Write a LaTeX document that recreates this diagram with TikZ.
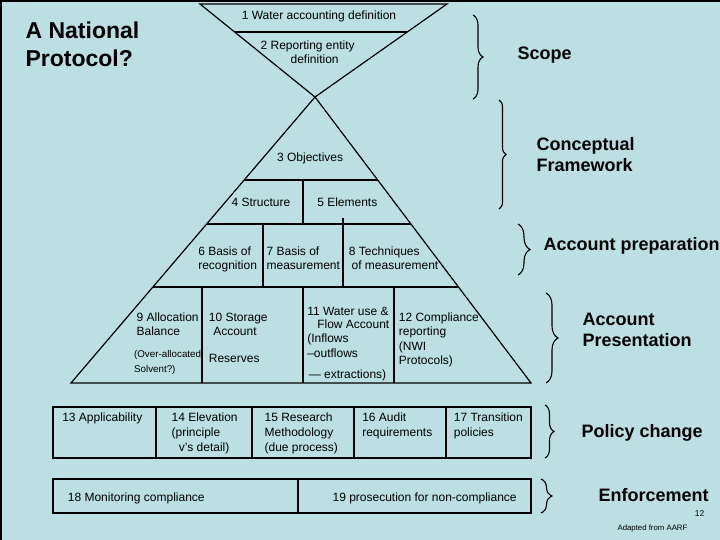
\documentclass[tikz,border=0pt]{standalone}
\usepackage{fontspec}
\setmainfont{Liberation Sans}
\usetikzlibrary{calc,decorations.pathreplacing}
\definecolor{bg}{HTML}{BCDFE3}
\begin{document}
\begin{tikzpicture}[x=1pt,y=-1pt,line width=1.2pt,
  txt/.style={inner sep=0pt,font=\fontsize{12}{14.5}\selectfont},
  blk/.style={txt,align=left,anchor=north west},
  hd/.style={inner sep=0pt,font=\fontsize{18}{21}\selectfont\bfseries},
  brc/.style={decorate,decoration={brace,amplitude=#1},line width=1.1pt}]
\useasboundingbox (0,0) rectangle (720,540);
\fill[bg] (0,0) rectangle (720,540);
\draw[line width=2pt] (0,1) -- (720,1) (1,0) -- (1,540);

% title
\node[inner sep=0pt,anchor=north west,align=left,font=\fontsize{23}{28}\selectfont\bfseries] (title) at (25,21) {A National\\Protocol?};

% top funnel
\coordinate (ftl) at (200,4); \coordinate (ftr) at (447,4); \coordinate (fap) at (315,97);
\draw (ftl) -- (ftr) -- (fap) -- cycle;
\draw ($(ftl)!0.301!(fap)$) -- ($(ftr)!0.301!(fap)$);
\node[txt,anchor=base] (t1) at (319,19.5) {1 Water accounting definition};
\node[blk] (t2) at (260,40) {2 Reporting entity\\\hspace*{30pt}definition};

% pyramid
\coordinate (pap) at (315,97); \coordinate (pbl) at (71,383); \coordinate (pbr) at (531,383);
\draw (pap) -- (pbl) -- (pbr) -- cycle;
\draw ($(pap)!0.2902!(pbl)$) -- ($(pap)!0.2902!(pbr)$);
\draw ($(pap)!0.4441!(pbl)$) -- ($(pap)!0.4441!(pbr)$);
\draw ($(pap)!0.6643!(pbl)$) -- ($(pap)!0.6643!(pbr)$);
\draw (303,180) -- (303,224);
\draw (263,224) -- (263,287);
\draw (343,218) -- (343,287);
\draw (202,287) -- (202,383) (303,287) -- (303,383) (394,287) -- (394,383);

\node[txt,anchor=base west] (t3) at (276.5,161.7) {3 Objectives};
\node[txt,anchor=base west] (t4) at (231,206.7) {4 Structure};
\node[txt,anchor=base west] (t5) at (316.7,206.7) {5 Elements};
\node[blk,font=\fontsize{12}{14.3}\selectfont] (t6) at (197.7,246) {6 Basis of\\recognition};
\node[blk,font=\fontsize{12}{14.3}\selectfont] (t7) at (266,246) {7 Basis of\\measurement};
\node[blk,font=\fontsize{12}{14.3}\selectfont] (t8) at (348.3,246) {8 Techniques\\\hspace*{2.7pt}of measurement};

\node[blk,font=\fontsize{12}{14.3}\selectfont] (t9) at (136,312.3) {9 Allocation\\Balance};
\node[blk,font=\fontsize{9.8}{15}\selectfont] (t9b) at (133.5,349.5) {(Over-allocated\\Solvent?)};
\node[blk,font=\fontsize{12}{14.3}\selectfont] (t10) at (208.3,312.3) {10 Storage\\\hspace*{4.4pt}Account};
\node[txt,anchor=base west] (t10b) at (208.3,362.7) {Reserves};
\node[blk,font=\fontsize{12}{14.6}\selectfont] (t11) at (306.7,306.7) {11 Water use \&\\[-2.2pt]\hspace*{10pt}Flow Account\\(Inflows\\[0.4pt]–outflows\\[6.1pt]\hspace*{1.6pt}— extractions)};
\node[blk,font=\fontsize{12}{14.4}\selectfont] (t12) at (398.3,312.3) {12 Compliance\\reporting\\(NWI\\Protocols)};

% policy row
\draw (53,407) rectangle (531,458);
\draw (156,407) -- (156,458) (252,407) -- (252,458) (354,407) -- (354,458) (446,407) -- (446,458);
\node[blk] (t13) at (61.7,412.7) {13 Applicability};
\node[blk,font=\fontsize{12}{14.6}\selectfont] (t14) at (171,412.7) {14 Elevation\\(principle\\\hspace*{7.3pt}v's detail)};
\node[blk,font=\fontsize{12}{14.6}\selectfont] (t15) at (264,412.7) {15 Research\\Methodology\\(due process)};
\node[blk,font=\fontsize{12}{14.6}\selectfont] (t16) at (361.7,412.7) {16 Audit\\requirements};
\node[blk,font=\fontsize{12}{14.6}\selectfont] (t17) at (453.3,412.7) {17 Transition\\policies};

% enforcement row
\draw (53,479) rectangle (531,513);
\draw (298,479) -- (298,513);
\node[txt,anchor=base west] (t18) at (67.3,501) {18 Monitoring compliance};
\node[txt,anchor=base east] (t19) at (517.3,501) {19 prosecution for non-compliance};

% braces
\draw[brc=10] (473,15) -- (473,99);
\draw[brc=7] (499,100) -- (499,209);
\draw[brc=12] (518,224) -- (518,275);
\draw[brc=12] (546,293) -- (546,383);
\draw[brc=9] (545,405) -- (545,458);
\draw[brc=11] (541,479) -- (541,513);

\node[hd,anchor=base west] (scope) at (517,60) {Scope};
\node[hd,anchor=north west,align=left,font=\fontsize{18}{21.5}\selectfont\bfseries] (concept) at (536,136.5) {Conceptual\\Framework};
\node[hd,anchor=base west] (prep) at (543,250.7) {Account preparation};
\node[hd,anchor=north west,align=left,font=\fontsize{18}{20.7}\selectfont\bfseries] (pres) at (582,312.5) {Account\\Presentation};
\node[hd,anchor=base west] (policy) at (581,437.7) {Policy change};
\node[hd,anchor=base west] (enf) at (598,501.7) {Enforcement};
\node[inner sep=0pt,anchor=base east,font=\fontsize{8.5}{10}\selectfont] (pnum) at (705,516) {12};
\node[inner sep=0pt,anchor=base west,font=\fontsize{7.8}{9}\selectfont] (adapt) at (617,530) {Adapted from AARF};
\end{tikzpicture}
\end{document}
